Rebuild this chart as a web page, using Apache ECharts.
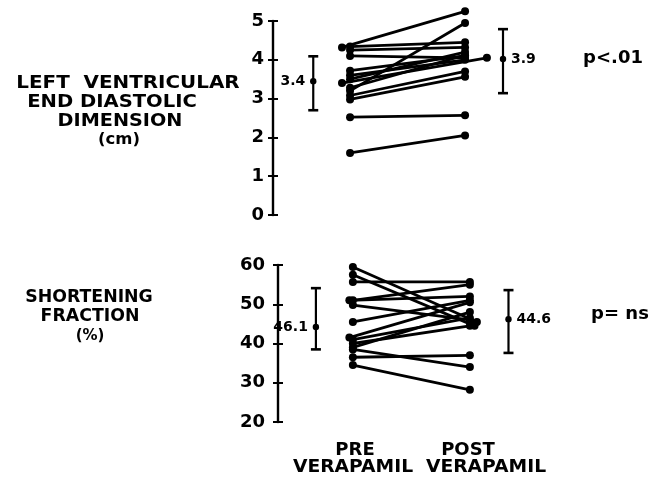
<!DOCTYPE html>
<html>
<head>
<meta charset="utf-8">
<script src="https://cdn.jsdelivr.net/npm/echarts@6/dist/echarts.min.js"></script>
<style>
html,body{margin:0;padding:0;background:#fff;}
#chart{width:659px;height:477px;}
</style>
</head>
<body>
<div id="chart"></div>
<script>
// ---- data ----
const groups = ['PRE\nVERAPAMIL', 'POST\nVERAPAMIL'];
// Left ventricular end diastolic dimension (cm), one entry per patient
const lvPre  = [4.32, 3.20, 4.34, 4.25, 4.10, 3.72, 3.60, 3.40, 3.28, 3.08, 2.98, 3.50, 2.52, 1.60];
const lvPost = [5.25, 4.95, 4.45, 4.32, 4.05, 4.10, 4.00, 4.05, 4.12, 3.70, 3.56, 4.20, 2.57, 2.05];
// Shortening fraction (%)
const sfPre  = [59.5, 57.5, 55.7, 51.0, 51.0, 49.8, 45.5, 41.5, 41.0, 40.0, 38.5, 36.5, 34.5, 39.0];
const sfPost = [45.5, 44.5, 55.7, 52.0, 55.0, 46.0, 51.0, 50.5, 46.5, 44.5, 34.0, 37.0, 28.2, 48.0];
// Mean +/- SD bars: [low, high, mean] and printed labels
const lvBars = [[2.70, 4.09, 3.45], [3.14, 4.79, 4.02]];
const lvBarLabels = ['3.4', '3.9'];
const sfBars = [[38.5, 54.1, 44.2], [37.6, 53.6, 46.2]];
const sfBarLabels = ['46.1', '44.6'];
const lvTicks = [0, 1, 2, 3, 4, 5];
const sfTicks = [20, 30, 40, 50, 60];
const pValues = ['p<.01', 'p= ns'];

// ---- build ----
const FONT = 'DejaVu Sans';
const chart = echarts.init(document.getElementById('chart'), null, {renderer: 'canvas'});

function patientSeries(pre, post, gi, shiftPre, shiftPost) {
  return pre.map((v, i) => ({
    type: 'line',
    xAxisIndex: gi, yAxisIndex: gi * 2,
    data: [[0 + (shiftPre[i] || 0), v], [1 + (shiftPost[i] || 0), post[i]]],
    symbol: 'circle', symbolSize: 8,
    clip: false,
    itemStyle: {color: '#000'},
    lineStyle: {color: '#000', width: 2.8},
    silent: true, animation: false, z: 3
  }));
}

function barSeries(bars, labels, gi, xs) {
  return {
    type: 'custom',
    xAxisIndex: gi, yAxisIndex: gi * 2,
    coordinateSystem: 'cartesian2d',
    clip: false,
    data: bars.map((b, i) => [xs[i], b[0], b[1], b[2]]),
    animation: false, silent: true,
    renderItem: function (params, api) {
      const x = api.value(0);
      const lo = api.coord([x, api.value(1)]);
      const hi = api.coord([x, api.value(2)]);
      const m = api.coord([x, api.value(3)]);
      const left = params.dataIndex === 0;
      const st = {stroke: '#000', lineWidth: 2.2};
      return {
        type: 'group',
        children: [
          {type: 'line', shape: {x1: lo[0], y1: lo[1], x2: hi[0], y2: hi[1]}, style: st},
          {type: 'line', shape: {x1: lo[0] - 5, y1: lo[1], x2: lo[0] + 5, y2: lo[1]}, style: {stroke: '#000', lineWidth: 2.6}},
          {type: 'line', shape: {x1: hi[0] - 5, y1: hi[1], x2: hi[0] + 5, y2: hi[1]}, style: {stroke: '#000', lineWidth: 2.6}},
          {type: 'circle', shape: {cx: m[0], cy: m[1], r: 3.2}, style: {fill: '#000'}},
          {type: 'text', x: m[0] + (left ? -8 : 8), y: m[1],
           style: {text: labels[params.dataIndex], fill: '#000', font: 'bold 14px "' + FONT + '"',
                   textAlign: left ? 'right' : 'left', textVerticalAlign: 'middle'}}
        ]
      };
    }
  };
}

function yAxes(gi, min, max, interval, margin) {
  return [
    {gridIndex: gi, type: 'value', min: min, max: max, interval: interval,
     axisLine: {show: true, onZero: false, lineStyle: {color: '#000', width: 2.4}},
     axisTick: {show: true, length: 5, lineStyle: {color: '#000', width: 2}},
     axisLabel: {color: '#000', fontFamily: FONT, fontWeight: 'bold', fontSize: 18, margin: margin},
     splitLine: {show: false}},
    {gridIndex: gi, type: 'value', min: min, max: max, interval: interval, position: 'left',
     axisLine: {show: false, onZero: false},
     axisTick: {show: true, inside: true, length: 5, lineStyle: {color: '#000', width: 2}},
     axisLabel: {show: false}, splitLine: {show: false}}
  ];
}

function txt(text, x, y, size, sx, weight) {
  return {type: 'text', x: x, y: y, scaleX: sx || 1,
    style: {text: text, fill: '#000', font: (weight || 'bold') + ' ' + size + 'px "' + FONT + '"',
            textAlign: 'center', textVerticalAlign: 'middle'}};
}

const option = {
  backgroundColor: '#fff',
  animation: false,
  grid: [
    {left: 273, top: 21, height: 194, width: 2.27 * 115},
    {left: 278, top: 265, height: 157, width: 2.24 * 117}
  ],
  xAxis: [
    {gridIndex: 0, type: 'value', min: -0.67, max: 1.6, show: false},
    {gridIndex: 1, type: 'value', min: -0.64, max: 1.6, show: false}
  ],
  yAxis: [].concat(
    yAxes(0, lvTicks[0], lvTicks[lvTicks.length - 1], 1, 9),
    yAxes(1, sfTicks[0], sfTicks[sfTicks.length - 1], 10, 13)
  ),
  series: [].concat(
    patientSeries(lvPre, lvPost, 0, {0: -0.07, 7: -0.07}, {7: 0.19}),
    patientSeries(sfPre, sfPost, 1, {3: -0.03, 7: -0.03}, {0: 0.06, 1: 0.04}),
    [barSeries(lvBars, lvBarLabels, 0, [-0.32, 1.33]),
     barSeries(sfBars, sfBarLabels, 1, [-0.316, 1.33])]
  ),
  graphic: [
    txt('LEFT  VENTRICULAR', 128, 84, 17, 1.17),
    txt('END DIASTOLIC', 112, 103, 17, 1.15),
    txt('DIMENSION', 120, 122, 17, 1.13),
    txt('(cm)', 119, 140, 15, 1.1),
    txt('SHORTENING', 89, 298, 17, 1.02),
    txt('FRACTION', 90, 317, 17, 1.02),
    txt('(%)', 90, 336, 15, 1.0),
    txt(groups[0].split('\n')[0], 355, 450, 18, 1.0),
    txt(groups[0].split('\n')[1], 353, 467, 18, 1.04),
    txt(groups[1].split('\n')[0], 468, 450, 18, 1.0),
    txt(groups[1].split('\n')[1], 486, 467, 18, 1.04),
    txt(pValues[0], 613, 58, 18, 1.0),
    txt(pValues[1], 620, 314, 18, 1.0)
  ]
};
chart.setOption(option);
</script>
</body>
</html>
